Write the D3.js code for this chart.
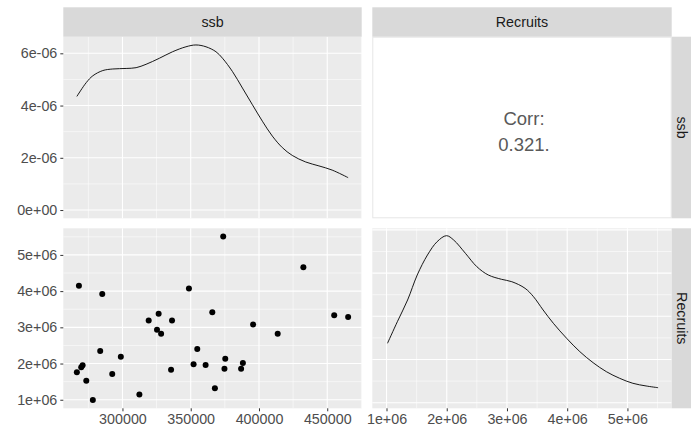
<!DOCTYPE html>
<html>
<head>
<meta charset="utf-8">
<script src="https://cdn.jsdelivr.net/npm/d3@7"></script>
<style>
  body { margin: 0; background: #fff; }
  text { font-family: "Liberation Sans", Arial, sans-serif; }
</style>
</head>
<body>
<svg id="chart"></svg>
<script>
// variables and their values
const vars = ["ssb", "Recruits"];
const ssb = [266600, 268100, 269800, 270800, 273500, 278300, 283700, 285200, 292500, 298800,
  312400, 319200, 325300, 326500, 328300, 335600, 336300, 348700, 352100, 354800,
  360900, 365800, 367700, 373800, 374700, 375300, 386900, 388200, 395700, 413700,
  432500, 455100, 465300];
const recruits = [1.76e6, 4.148e6, 1.898e6, 1.952e6, 1.528e6, 0.99e6, 2.344e6, 3.922e6, 1.708e6, 2.189e6,
  1.147e6, 3.188e6, 2.932e6, 3.378e6, 2.823e6, 1.827e6, 3.188e6, 4.075e6, 1.98e6, 2.399e6,
  1.963e6, 3.414e6, 1.318e6, 5.509e6, 1.854e6, 2.135e6, 1.854e6, 2.018e6, 3.079e6, 2.823e6,
  4.657e6, 3.332e6, 3.286e6];

// density curves on the diagonal
const ssbDensX = [266600, 273500, 278300, 285600, 292900, 302700, 310000, 317300, 327000, 336700,
  346500, 353800, 361200, 368500, 373300, 380600, 387900, 395200, 402500, 409800,
  417100, 424400, 434200, 443900, 453600, 465300];
const ssbDensY = [4.35e-6, 4.88e-6, 5.14e-6, 5.34e-6, 5.40e-6, 5.42e-6, 5.45e-6, 5.58e-6, 5.81e-6, 6.06e-6,
  6.25e-6, 6.32e-6, 6.25e-6, 6.06e-6, 5.81e-6, 5.30e-6, 4.67e-6, 4.03e-6, 3.40e-6, 2.83e-6,
  2.39e-6, 2.09e-6, 1.84e-6, 1.69e-6, 1.53e-6, 1.24e-6];
const recDensX = [1.0165e6, 1.18e6, 1.35e6, 1.51e6, 1.68e6, 1.84e6, 1.995e6, 2.115e6, 2.31e6, 2.50e6,
  2.69e6, 2.91e6, 3.08e6, 3.30e6, 3.44e6, 3.60e6, 3.77e6, 3.99e6, 4.21e6, 4.43e6,
  4.65e6, 4.87e6, 5.09e6, 5.31e6, 5.509e6];
const recDensY = [1.375e-7, 1.875e-7, 2.377e-7, 2.956e-7, 3.419e-7, 3.727e-7, 3.866e-7, 3.766e-7, 3.458e-7, 3.148e-7,
  2.956e-7, 2.856e-7, 2.801e-7, 2.648e-7, 2.454e-7, 2.146e-7, 1.838e-7, 1.491e-7, 1.181e-7, 0.926e-7,
  0.718e-7, 0.565e-7, 0.449e-7, 0.387e-7, 0.347e-7];

const corrText = ["Corr:", "0.321."];

// tick values and labels
const ssbTicks = [300000, 350000, 400000, 450000];
const ssbTickLabels = ["300000", "350000", "400000", "450000"];
const recTicks = [1e6, 2e6, 3e6, 4e6, 5e6];
const recTickLabels = ["1e+06", "2e+06", "3e+06", "4e+06", "5e+06"];
const densTicks = [0, 2e-6, 4e-6, 6e-6];
const densTickLabels = ["0e+00", "2e-06", "4e-06", "6e-06"];

const W = 691, H = 435;
const cols = [[63.3, 361.7], [372.3, 671.7]];
const rows = [[36.7, 218.3], [228.3, 408.3]];
const stripTop = 7.3, stripW = 21;
const fontSize = 14.3;

const svg = d3.select("#chart").attr("width", W).attr("height", H);

function expand(ext, m) {
  const d = (ext[1] - ext[0]) * (m || 0.05);
  return [ext[0] - d, ext[1] + d];
}
function minors(majors, domain) {
  const step = majors[1] - majors[0];
  const out = [];
  for (let v = majors[0] - step / 2; v <= domain[1]; v += step) {
    if (v >= domain[0]) out.push(v);
  }
  return out;
}

// scales
const xSsb = d3.scaleLinear().domain(expand(d3.extent(ssb))).range(cols[0]);
const xRec = d3.scaleLinear().domain(expand(d3.extent(recruits))).range(cols[1]);
const yRec = d3.scaleLinear().domain(expand(d3.extent(recruits))).range([rows[1][1], rows[1][0]]);
const yDens1 = d3.scaleLinear().domain(expand([0, d3.max(ssbDensY)])).range([rows[0][1], rows[0][0]]);
const yDens2 = d3.scaleLinear().domain([-0.13e-7, 4.037e-7]).range([rows[1][1], rows[1][0]]);

function panelBg(c, r, fill) {
  svg.append("rect")
    .attr("x", cols[c][0]).attr("y", rows[r][0])
    .attr("width", cols[c][1] - cols[c][0]).attr("height", rows[r][1] - rows[r][0])
    .attr("fill", fill);
}

function grid(c, r, xs, xTicks, ys, yTicks) {
  const g = svg.append("g");
  const xMin = minors(xTicks, xs.domain()), yMin = minors(yTicks, ys.domain());
  g.selectAll(".vmin").data(xMin).enter().append("line")
    .attr("x1", d => xs(d)).attr("x2", d => xs(d))
    .attr("y1", rows[r][0]).attr("y2", rows[r][1])
    .attr("stroke", "#fff").attr("stroke-width", 0.55);
  g.selectAll(".hmin").data(yMin).enter().append("line")
    .attr("y1", d => ys(d)).attr("y2", d => ys(d))
    .attr("x1", cols[c][0]).attr("x2", cols[c][1])
    .attr("stroke", "#fff").attr("stroke-width", 0.55);
  g.selectAll(".vmaj").data(xTicks).enter().append("line")
    .attr("x1", d => xs(d)).attr("x2", d => xs(d))
    .attr("y1", rows[r][0]).attr("y2", rows[r][1])
    .attr("stroke", "#fff").attr("stroke-width", 1.1);
  g.selectAll(".hmaj").data(yTicks).enter().append("line")
    .attr("y1", d => ys(d)).attr("y2", d => ys(d))
    .attr("x1", cols[c][0]).attr("x2", cols[c][1])
    .attr("stroke", "#fff").attr("stroke-width", 1.1);
}

// top-left: ssb density
panelBg(0, 0, "#EBEBEB");
grid(0, 0, xSsb, ssbTicks, yDens1, densTicks);
const line1 = d3.line().x((d, i) => xSsb(ssbDensX[i])).y(d => yDens1(d)).curve(d3.curveCatmullRom);
svg.append("path").attr("d", line1(ssbDensY))
  .attr("fill", "none").attr("stroke", "#000").attr("stroke-width", 0.9);

// top-right: correlation
svg.append("rect")
  .attr("x", cols[1][0] + 0.5).attr("y", rows[0][0] + 0.5)
  .attr("width", cols[1][1] - cols[1][0] - 1).attr("height", rows[0][1] - rows[0][0] - 1)
  .attr("fill", "#fff").attr("stroke", "#E6E6E6").attr("stroke-width", 1);
svg.selectAll(".corr").data(corrText).enter().append("text")
  .attr("x", (cols[1][0] + cols[1][1]) / 2 + 2)
  .attr("y", (d, i) => 125 + i * 26)
  .attr("text-anchor", "middle")
  .attr("font-size", 18.5)
  .attr("fill", "#595959")
  .text(d => d);

// bottom-left: scatter
panelBg(0, 1, "#EBEBEB");
grid(0, 1, xSsb, ssbTicks, yRec, recTicks);
svg.append("g").selectAll("circle").data(ssb).enter().append("circle")
  .attr("cx", d => xSsb(d))
  .attr("cy", (d, i) => yRec(recruits[i]))
  .attr("r", 3)
  .attr("fill", "#000");

// bottom-right: Recruits density
panelBg(1, 1, "#EBEBEB");
grid(1, 1, xRec, recTicks, yDens2, [0, 1e-7, 2e-7, 3e-7, 4e-7]);
const line2 = d3.line().x((d, i) => xRec(recDensX[i])).y(d => yDens2(d)).curve(d3.curveCatmullRom);
svg.append("path").attr("d", line2(recDensY))
  .attr("fill", "none").attr("stroke", "#000").attr("stroke-width", 0.9);

// strips on top
vars.forEach((v, c) => {
  svg.append("rect")
    .attr("x", cols[c][0]).attr("y", stripTop)
    .attr("width", cols[c][1] - cols[c][0]).attr("height", rows[0][0] - stripTop)
    .attr("fill", "#D9D9D9");
  svg.append("text")
    .attr("x", (cols[c][0] + cols[c][1]) / 2)
    .attr("y", (stripTop + rows[0][0]) / 2)
    .attr("dy", "0.36em")
    .attr("text-anchor", "middle")
    .attr("font-size", fontSize)
    .attr("fill", "#1A1A1A")
    .text(v);
});
// strips on the right
vars.forEach((v, r) => {
  svg.append("rect")
    .attr("x", cols[1][1]).attr("y", rows[r][0])
    .attr("width", stripW).attr("height", rows[r][1] - rows[r][0])
    .attr("fill", "#D9D9D9");
  const cx = cols[1][1] + stripW / 2, cy = (rows[r][0] + rows[r][1]) / 2;
  svg.append("text")
    .attr("transform", `translate(${cx},${cy}) rotate(90)`)
    .attr("dy", "0.36em")
    .attr("text-anchor", "middle")
    .attr("font-size", fontSize)
    .attr("fill", "#1A1A1A")
    .text(v);
});

// axes
function styleAxis(g) {
  g.select(".domain").remove();
  g.selectAll(".tick line").attr("stroke", "#333").attr("stroke-width", 1);
  g.selectAll(".tick text").attr("fill", "#4D4D4D").attr("font-size", fontSize)
    .attr("font-family", '"Liberation Sans", Arial, sans-serif');
}
svg.append("g").attr("transform", `translate(${cols[0][0]},0)`)
  .call(d3.axisLeft(yDens1).tickValues(densTicks).tickFormat((d, i) => densTickLabels[i]).tickSize(3).tickPadding(3))
  .call(styleAxis);
svg.append("g").attr("transform", `translate(${cols[0][0]},0)`)
  .call(d3.axisLeft(yRec).tickValues(recTicks).tickFormat((d, i) => recTickLabels[i]).tickSize(3).tickPadding(3))
  .call(styleAxis);
svg.append("g").attr("transform", `translate(0,${rows[1][1]})`)
  .call(d3.axisBottom(xSsb).tickValues(ssbTicks).tickFormat((d, i) => ssbTickLabels[i]).tickSize(3).tickPadding(3))
  .call(styleAxis);
svg.append("g").attr("transform", `translate(0,${rows[1][1]})`)
  .call(d3.axisBottom(xRec).tickValues(recTicks).tickFormat((d, i) => recTickLabels[i]).tickSize(3).tickPadding(3))
  .call(styleAxis);
</script>
</body>
</html>
